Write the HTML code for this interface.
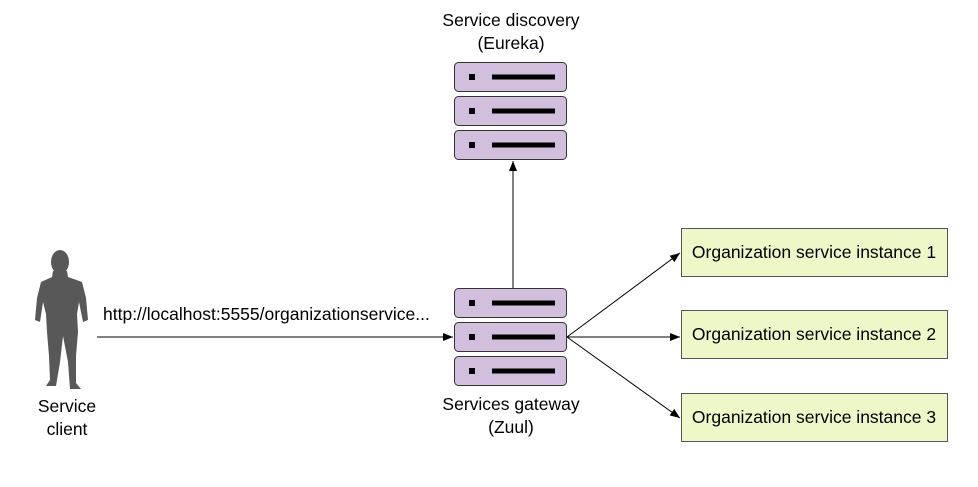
<!DOCTYPE html>
<html><head><style>
body{margin:0;background:#fff;width:978px;height:482px;overflow:hidden;font-family:"Liberation Sans",sans-serif}
</style></head><body>
<svg width="978" height="482" xmlns="http://www.w3.org/2000/svg" font-family="Liberation Sans, sans-serif">
<defs>
<marker id="a" markerWidth="10" markerHeight="8" refX="10" refY="4" orient="auto" markerUnits="userSpaceOnUse"><path d="M0,0 L10,4 L0,8 z" fill="#000"/></marker>
<g id="srv"><rect x="0.5" y="0.5" width="112" height="29" rx="4" fill="#d1bfdd" stroke="#333" stroke-width="1"/><rect x="15" y="12" width="6" height="6" fill="#000"/><rect x="38" y="12.5" width="63" height="5" fill="#000"/></g>
</defs>
<text x="511" y="26" font-size="17.5" text-anchor="middle">Service discovery</text>
<text x="511" y="49" font-size="17.5" text-anchor="middle">(Eureka)</text>
<use href="#srv" x="454" y="62"/>
<use href="#srv" x="454" y="96"/>
<use href="#srv" x="454" y="130"/>
<use href="#srv" x="454" y="288"/>
<use href="#srv" x="454" y="322"/>
<use href="#srv" x="454" y="356"/>
<line x1="513" y1="288" x2="513" y2="161" stroke="#000" marker-end="url(#a)"/>
<line x1="97" y1="337" x2="453" y2="337" stroke="#000" marker-end="url(#a)"/>
<line x1="567" y1="337" x2="680" y2="253" stroke="#000" marker-end="url(#a)"/>
<line x1="567" y1="337" x2="680" y2="337" stroke="#000" marker-end="url(#a)"/>
<line x1="567" y1="337" x2="680" y2="418" stroke="#000" marker-end="url(#a)"/>
<text x="103" y="320" font-size="17.5">http://localhost:5555/organizationservice...</text>
<text x="511" y="410" font-size="17.5" text-anchor="middle">Services gateway</text>
<text x="511" y="433" font-size="17.5" text-anchor="middle">(Zuul)</text>
<text x="67" y="412" font-size="17.5" text-anchor="middle">Service</text>
<text x="67" y="435" font-size="17.5" text-anchor="middle">client</text>
<g fill="#eef7c8" stroke="#555">
<rect x="681.5" y="228.5" width="266" height="48"/>
<rect x="681.5" y="310.5" width="266" height="48"/>
<rect x="681.5" y="393.5" width="266" height="48"/>
</g>
<text x="814" y="258" font-size="17.5" text-anchor="middle">Organization service instance 1</text>
<text x="814" y="340" font-size="17.5" text-anchor="middle">Organization service instance 2</text>
<text x="814" y="423" font-size="17.5" text-anchor="middle">Organization service instance 3</text>
<g fill="#585858">
<ellipse cx="60" cy="262" rx="9" ry="12"/>
<path d="M53,271 L67,271 L68,277 L82,282 L86,298 L88,320 L83,322 L79,302 L77,314 L78,332 L76,356 L76,383 L81,389 L70,389 L68,362 L63,336 L60,362 L56,386 L46,386 L50,380 L49,356 L47,332 L46,314 L43,302 L40,322 L35,320 L37,298 L41,282 L52,277 z"/>
</g>
</svg>
</body></html>
